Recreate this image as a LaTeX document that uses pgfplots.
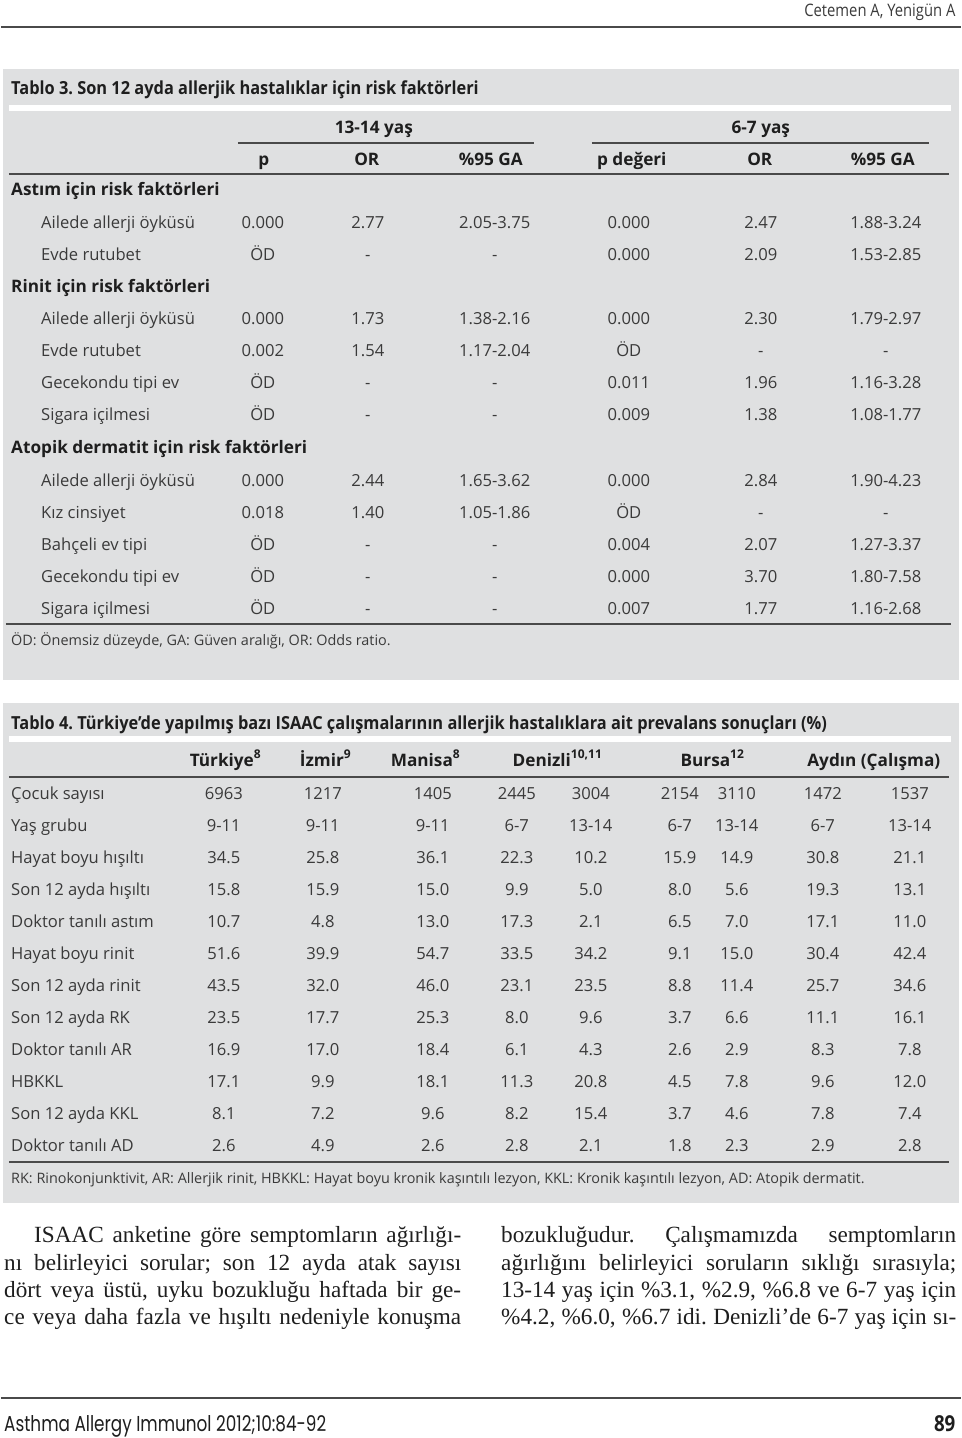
\documentclass[border=0pt]{standalone}
\usepackage{pgfplots}
\pgfplotsset{compat=1.18}
\usepackage{graphicx}
\usepackage{fontspec}
\setmainfont{Liberation Serif}
\newfontfamily\tabfont{Open Sans}
\newfontfamily\footfont{Poppins}
\definecolor{boxgray}{HTML}{DFE0E1}
\definecolor{tgray}{HTML}{3A3A3A}
\definecolor{hgray}{HTML}{1E1E1E}
\definecolor{lgray}{HTML}{4A4A4A}
\frenchspacing
\newcommand\tf{\tabfont\fontsize{8.3}{10}\selectfont}
\newcommand\tfs{\tabfont\fontsize{7.2}{9}\selectfont}
\newcommand\tfb{\tabfont\bfseries\fontsize{8.6}{10}\selectfont}
\newcommand\tft{\tabfont\bfseries\fontsize{9}{10}\selectfont}
\newcommand\bodyf{\fontsize{11.6}{13}\selectfont}
% Table 3 row: y(baseline) label p OR GA p2 OR2 GA2
\newcommand\rowA[8]{%
\node[lab] at (axis cs:40,#1) {#2};
\node[cel] at (axis cs:262,#1) {#3};
\node[cel] at (axis cs:367,#1) {#4};
\node[cel] at (axis cs:494,#1) {#5};
\node[cel] at (axis cs:628,#1) {#6};
\node[cel] at (axis cs:760,#1) {#7};
\node[cel] at (axis cs:885,#1) {#8};}
% Table 4
\newcommand\valsA[6]{%
\node[lab] at (axis cs:10,#1) {#2};
\node[cel] at (axis cs:223,#1) {#3};
\node[cel] at (axis cs:322,#1) {#4};
\node[cel] at (axis cs:432,#1) {#5};
\node[cel] at (axis cs:516,#1) {#6};}
\newcommand\valsB[6]{%
\node[cel] at (axis cs:590,#1) {#2};
\node[cel] at (axis cs:679,#1) {#3};
\node[cel] at (axis cs:736,#1) {#4};
\node[cel] at (axis cs:822,#1) {#5};
\node[cel] at (axis cs:909,#1) {#6};}
\begin{document}
\begin{tikzpicture}[
  lab/.style={anchor=base west,inner sep=0pt,font=\tf,text=tgray},
  cel/.style={anchor=base,inner sep=0pt,font=\tf,text=tgray},
  hd/.style={anchor=base,inner sep=0pt,font=\tfb,text=hgray},
  hdl/.style={anchor=base west,inner sep=0pt,font=\tfb,text=hgray},
  ttl/.style={anchor=base west,inner sep=0pt,font=\tft,text=hgray},
  bl/.style={anchor=base west,inner sep=0pt,font=\bodyf,text=hgray}]
\begin{axis}[scale only axis,width=480pt,height=719pt,
  xmin=0,xmax=960,ymin=0,ymax=1438,y dir=reverse,hide axis,clip=false]
\path (axis cs:0,0) rectangle (axis cs:960,1438);
% page header
\node[anchor=base east,inner sep=0pt,font=\tabfont\fontsize{8.6}{10}\selectfont,text=tgray] at (axis cs:955,17) {\scalebox{0.86}[1]{Cetemen A, Yenigün A}};
\draw[lgray,line width=0.8pt] (axis cs:0,27) -- (axis cs:960,27);
% ===== Table 3 =====
\fill[boxgray] (axis cs:2,69) rectangle (axis cs:958,680);
\fill[white] (axis cs:8,105) rectangle (axis cs:950,111);
\node[ttl] at (axis cs:10,95) {\scalebox{0.91}[1]{Tablo 3. Son 12 ayda allerjik hastalıklar için risk faktörleri}};
\node[hd] at (axis cs:373,134) {13-14 yaş};
\node[hd] at (axis cs:760,134) {6-7 yaş};
\draw[lgray,line width=0.7pt] (axis cs:237,143) -- (axis cs:533,143);
\draw[lgray,line width=0.7pt] (axis cs:591,143) -- (axis cs:928,143);
\node[hd] at (axis cs:263,166) {p};
\node[hd] at (axis cs:366,166) {OR};
\node[hd] at (axis cs:490,166) {\%95 GA};
\node[hd] at (axis cs:631,166) {p değeri};
\node[hd] at (axis cs:759,166) {OR};
\node[hd] at (axis cs:882,166) {\%95 GA};
\draw[lgray,line width=0.8pt] (axis cs:8,174) -- (axis cs:948,174);
\node[hdl] at (axis cs:10,196) {Astım için risk faktörleri};
\rowA{229}{Ailede allerji öyküsü}{0.000}{2.77}{2.05-3.75}{0.000}{2.47}{1.88-3.24}
\rowA{261}{Evde rutubet}{ÖD}{-}{-}{0.000}{2.09}{1.53-2.85}
\node[hdl] at (axis cs:10,293) {Rinit için risk faktörleri};
\rowA{325}{Ailede allerji öyküsü}{0.000}{1.73}{1.38-2.16}{0.000}{2.30}{1.79-2.97}
\rowA{357}{Evde rutubet}{0.002}{1.54}{1.17-2.04}{ÖD}{-}{-}
\rowA{389}{Gecekondu tipi ev}{ÖD}{-}{-}{0.011}{1.96}{1.16-3.28}
\rowA{421}{Sigara içilmesi}{ÖD}{-}{-}{0.009}{1.38}{1.08-1.77}
\node[hdl] at (axis cs:10,453) {Atopik dermatit için risk faktörleri};
\rowA{486}{Ailede allerji öyküsü}{0.000}{2.44}{1.65-3.62}{0.000}{2.84}{1.90-4.23}
\rowA{518}{Kız cinsiyet}{0.018}{1.40}{1.05-1.86}{ÖD}{-}{-}
\rowA{550}{Bahçeli ev tipi}{ÖD}{-}{-}{0.004}{2.07}{1.27-3.37}
\rowA{582}{Gecekondu tipi ev}{ÖD}{-}{-}{0.000}{3.70}{1.80-7.58}
\rowA{614}{Sigara içilmesi}{ÖD}{-}{-}{0.007}{1.77}{1.16-2.68}
\draw[lgray,line width=0.8pt] (axis cs:5,624) -- (axis cs:950,624);
\node[anchor=base west,inner sep=0pt,font=\tfs,text=tgray] at (axis cs:10,645) {ÖD: Önemsiz düzeyde, GA: Güven aralığı, OR: Odds ratio.};
% ===== Table 4 =====
\fill[boxgray] (axis cs:2,703) rectangle (axis cs:958,1203);
\fill[white] (axis cs:8,736) rectangle (axis cs:950,742);
\node[ttl] at (axis cs:10,729) {\scalebox{0.91}[1]{Tablo 4. Türkiye’de yapılmış bazı ISAAC çalışmalarının allerjik hastalıklara ait prevalans sonuçları (\%)}};
\node[hd] at (axis cs:225,766) {Türkiye\textsuperscript{8}};
\node[hd] at (axis cs:325,766) {İzmir\textsuperscript{9}};
\node[hd] at (axis cs:425,766) {Manisa\textsuperscript{8}};
\node[hd] at (axis cs:557,766) {Denizli\textsuperscript{10,11}};
\node[hd] at (axis cs:712,766) {Bursa\textsuperscript{12}};
\node[hd] at (axis cs:873,766) {Aydın (Çalışma)};
\draw[lgray,line width=0.8pt] (axis cs:8,777) -- (axis cs:948,777);
\valsA{799}{Çocuk sayısı}{6963}{1217}{1405}{2445}\valsB{799}{3004}{2154}{3110}{1472}{1537}
\valsA{831}{Yaş grubu}{9-11}{9-11}{9-11}{6-7}\valsB{831}{13-14}{6-7}{13-14}{6-7}{13-14}
\valsA{863}{Hayat boyu hışıltı}{34.5}{25.8}{36.1}{22.3}\valsB{863}{10.2}{15.9}{14.9}{30.8}{21.1}
\valsA{895}{Son 12 ayda hışıltı}{15.8}{15.9}{15.0}{9.9}\valsB{895}{5.0}{8.0}{5.6}{19.3}{13.1}
\valsA{927}{Doktor tanılı astım}{10.7}{4.8}{13.0}{17.3}\valsB{927}{2.1}{6.5}{7.0}{17.1}{11.0}
\valsA{959}{Hayat boyu rinit}{51.6}{39.9}{54.7}{33.5}\valsB{959}{34.2}{9.1}{15.0}{30.4}{42.4}
\valsA{991}{Son 12 ayda rinit}{43.5}{32.0}{46.0}{23.1}\valsB{991}{23.5}{8.8}{11.4}{25.7}{34.6}
\valsA{1023}{Son 12 ayda RK}{23.5}{17.7}{25.3}{8.0}\valsB{1023}{9.6}{3.7}{6.6}{11.1}{16.1}
\valsA{1055}{Doktor tanılı AR}{16.9}{17.0}{18.4}{6.1}\valsB{1055}{4.3}{2.6}{2.9}{8.3}{7.8}
\valsA{1087}{HBKKL}{17.1}{9.9}{18.1}{11.3}\valsB{1087}{20.8}{4.5}{7.8}{9.6}{12.0}
\valsA{1119}{Son 12 ayda KKL}{8.1}{7.2}{9.6}{8.2}\valsB{1119}{15.4}{3.7}{4.6}{7.8}{7.4}
\valsA{1151}{Doktor tanılı AD}{2.6}{4.9}{2.6}{2.8}\valsB{1151}{2.1}{1.8}{2.3}{2.9}{2.8}
\draw[lgray,line width=0.8pt] (axis cs:8,1162) -- (axis cs:948,1162);
\node[anchor=base west,inner sep=0pt,font=\tfs,text=tgray] at (axis cs:10,1183) {RK: Rinokonjunktivit, AR: Allerjik rinit, HBKKL: Hayat boyu kronik kaşıntılı lezyon, KKL: Kronik kaşıntılı lezyon, AD: Atopik dermatit.};
% ===== body text =====
\node[bl] at (axis cs:33,1242) {\makebox[213.5pt][s]{ISAAC anketine göre semptomların ağırlığı-}};
\node[bl] at (axis cs:3,1270) {\makebox[228.5pt][s]{nı belirleyici sorular; son 12 ayda atak sayısı}};
\node[bl] at (axis cs:3,1297) {\makebox[228.5pt][s]{dört veya üstü, uyku bozukluğu haftada bir ge-}};
\node[bl] at (axis cs:3,1324) {\makebox[228.5pt][s]{ce veya daha fazla ve hışıltı nedeniyle konuşma}};
\node[bl] at (axis cs:500,1242) {\makebox[227.5pt][s]{bozukluğudur. Çalışmamızda semptomların}};
\node[bl] at (axis cs:500,1270) {\makebox[227.5pt][s]{ağırlığını belirleyici soruların sıklığı sırasıyla;}};
\node[bl] at (axis cs:500,1297) {\makebox[227.5pt][s]{13-14 yaş için \%3.1, \%2.9, \%6.8 ve 6-7 yaş için}};
\node[bl] at (axis cs:500,1324) {\makebox[227.5pt][s]{\%4.2, \%6.0, \%6.7 idi. Denizli’de 6-7 yaş için sı-}};
% footer
\draw[lgray,line width=0.8pt] (axis cs:0,1398) -- (axis cs:960,1398);
\node[anchor=base west,inner sep=0pt,font=\footfont\fontsize{10.8}{12}\selectfont,text=hgray] at (axis cs:3,1431) {\scalebox{0.78}[1]{Asthma Allergy Immunol 2012;10:84-92}};
\node[anchor=base east,inner sep=0pt,font=\tabfont\bfseries\fontsize{11}{12}\selectfont,text=hgray] at (axis cs:955,1431) {\scalebox{0.85}[1]{89}};
\end{axis}
\end{tikzpicture}
\end{document}
